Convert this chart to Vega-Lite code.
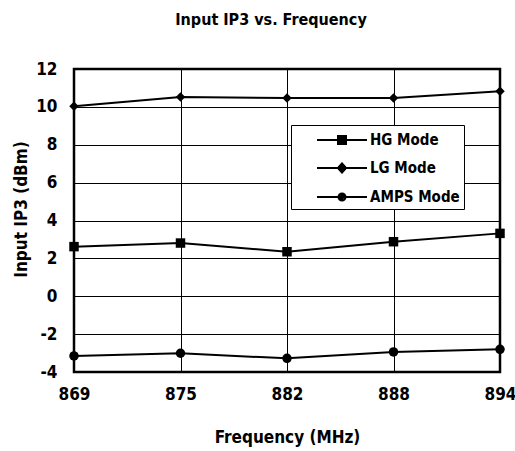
{
  "$schema": "https://vega.github.io/schema/vega-lite/v6.json",
  "autosize": {"type": "none"},
  "padding": {"left": 74, "top": 69, "right": 15, "bottom": 79},
  "width": 426,
  "height": 303,
  "background": "white",
  "title": {
    "text": "Input IP3 vs. Frequency",
    "font": "DejaVu Sans Condensed, Liberation Sans Narrow, sans-serif",
    "fontSize": 16,
    "fontWeight": "bold",
    "color": "black",
    "anchor": "middle",
    "dx": -16,
    "offset": 32
  },
  "config": {
    "font": "DejaVu Sans Condensed, Liberation Sans Narrow, sans-serif",
    "view": {"stroke": "black", "strokeWidth": 2.5},
    "axis": {
      "labelFont": "DejaVu Sans Condensed, Liberation Sans Narrow, sans-serif",
      "titleFont": "DejaVu Sans Condensed, Liberation Sans Narrow, sans-serif",
      "labelFontWeight": "bold",
      "titleFontWeight": "bold",
      "labelColor": "black",
      "titleColor": "black",
      "labelFontSize": 17,
      "titleFontSize": 17,
      "gridColor": "black",
      "gridOpacity": 1,
      "gridWidth": 1,
      "domain": false,
      "ticks": false
    }
  },
  "data": {
    "values": [
      {"freq": "869", "mode": "HG Mode", "ip3": 2.62},
      {"freq": "875", "mode": "HG Mode", "ip3": 2.81},
      {"freq": "882", "mode": "HG Mode", "ip3": 2.35},
      {"freq": "888", "mode": "HG Mode", "ip3": 2.88},
      {"freq": "894", "mode": "HG Mode", "ip3": 3.32},
      {"freq": "869", "mode": "LG Mode", "ip3": 10.03},
      {"freq": "875", "mode": "LG Mode", "ip3": 10.52},
      {"freq": "882", "mode": "LG Mode", "ip3": 10.47},
      {"freq": "888", "mode": "LG Mode", "ip3": 10.47},
      {"freq": "894", "mode": "LG Mode", "ip3": 10.82},
      {"freq": "869", "mode": "AMPS Mode", "ip3": -3.15},
      {"freq": "875", "mode": "AMPS Mode", "ip3": -3.01},
      {"freq": "882", "mode": "AMPS Mode", "ip3": -3.28},
      {"freq": "888", "mode": "AMPS Mode", "ip3": -2.94},
      {"freq": "894", "mode": "AMPS Mode", "ip3": -2.8}
    ]
  },
  "encoding": {
    "x": {
      "field": "freq",
      "type": "ordinal",
      "scale": {"type": "point", "padding": 0},
      "axis": {
        "title": "Frequency (MHz)",
        "labelAngle": 0,
        "labelPadding": 14,
        "grid": true,
        "titleY": 65,
        "titleBaseline": "middle"
      }
    },
    "y": {
      "field": "ip3",
      "type": "quantitative",
      "scale": {"domain": [-4, 12], "nice": false, "zero": false},
      "axis": {
        "title": "Input IP3 (dBm)",
        "values": [-4, -2, 0, 2, 4, 6, 8, 10, 12],
        "labelExpr": "datum.value < 0 ? '-' + abs(datum.value) : '' + datum.value",
        "labelPadding": 17,
        "grid": true,
        "titleX": -53,
        "titleY": 140,
        "titleAngle": -90,
        "titleAlign": "center",
        "titleBaseline": "middle"
      }
    }
  },
  "resolve": {"scale": {"shape": "independent"}, "legend": {"shape": "independent"}},
  "layer": [
    {
      "mark": {"type": "line", "color": "black", "strokeWidth": 2},
      "encoding": {"detail": {"field": "mode"}}
    },
    {
      "mark": {"type": "point", "filled": true, "color": "black", "opacity": 1, "size": 90},
      "encoding": {
        "shape": {
          "field": "mode",
          "type": "nominal",
          "scale": {"domain": ["HG Mode", "LG Mode", "AMPS Mode"], "range": ["square", "diamond", "circle"]},
          "legend": null
        }
      }
    },
    {
      "mark": {"type": "point", "filled": false, "color": "black", "strokeWidth": 2, "opacity": 0, "size": 1},
      "encoding": {
        "shape": {
          "field": "mode",
          "type": "nominal",
          "scale": {
            "domain": ["HG Mode", "LG Mode", "AMPS Mode"],
            "range": [
              "M1.1,0H6.1M3.1,-0.4H4.1M3.1,-0.2H4.1M3.1,0.2H4.1M3.1,0.4H4.1",
              "M1.1,0H6.1M3.19,-0.1H4.01M3.28,-0.2H3.92M3.37,-0.3H3.83M3.46,-0.4H3.74M3.55,-0.5H3.65M3.19,0.1H4.01M3.28,0.2H3.92M3.37,0.3H3.83M3.46,0.4H3.74M3.55,0.5H3.65",
              "M1.1,0H6.1M3.95,0A0.35,0.35 0 1 1 3.25,0A0.35,0.35 0 1 1 3.95,0M3.75,0A0.15,0.15 0 1 1 3.45,0A0.15,0.15 0 1 1 3.75,0"
            ]
          },
          "legend": {
            "title": null,
            "orient": "none",
            "legendX": 217,
            "legendY": 56,
            "strokeColor": "black",
            "fillColor": "white",
            "padding": 4,
            "symbolSize": 400,
            "symbolStrokeWidth": 2,
            "symbolStrokeColor": "black",
            "symbolOpacity": 1,
            "labelOffset": 53,
            "labelFont": "DejaVu Sans Condensed, Liberation Sans Narrow, sans-serif",
            "labelFontSize": 15,
            "labelFontWeight": "bold",
            "labelColor": "black",
            "labelExpr": "datum.label + '    '",
            "rowPadding": 9
          }
        }
      }
    }
  ]
}
